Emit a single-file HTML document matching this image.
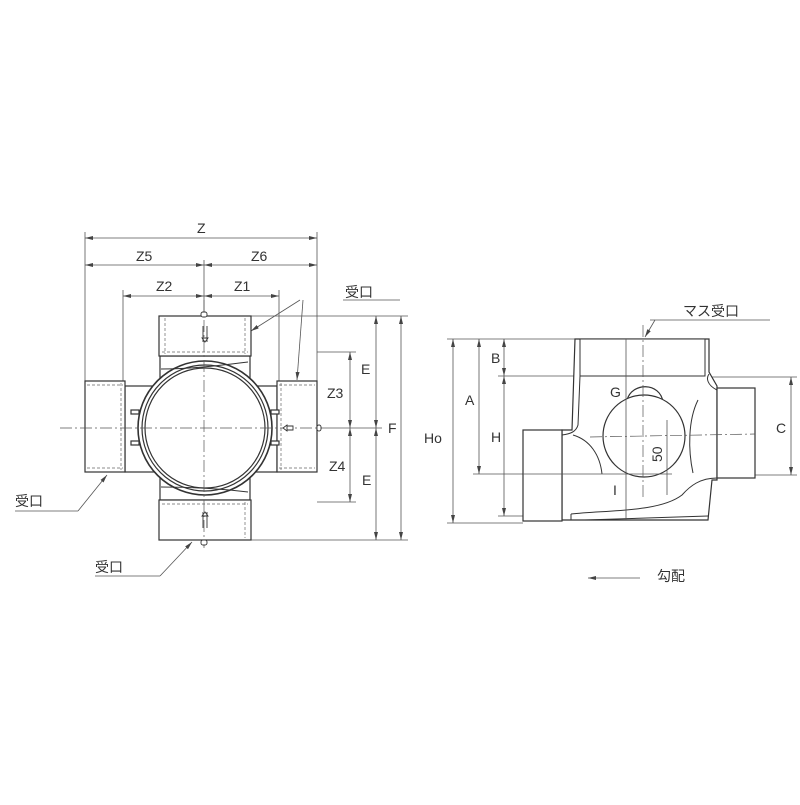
<!DOCTYPE html>
<html><head><meta charset="utf-8"><style>
html,body{margin:0;padding:0;background:#fff}
text{font-family:"Liberation Sans","Noto Sans CJK JP",sans-serif;fill:#333;font-size:14px}
</style></head><body>
<svg width="800" height="800" viewBox="0 0 800 800" xmlns="http://www.w3.org/2000/svg">
<defs>
<marker id="a" markerWidth="8" markerHeight="6" refX="8" refY="3" orient="auto-start-reverse" markerUnits="userSpaceOnUse"><path d="M0,1 L8,3 L0,5" fill="#444" stroke="none"/></marker>
</defs>
<g stroke="#555" stroke-width="0.8" fill="none">
<line x1="85" y1="232" x2="85" y2="381"/><line x1="317" y1="232" x2="317" y2="381"/>
<line x1="204" y1="260" x2="204" y2="316"/>
<line x1="123" y1="290" x2="123" y2="381"/><line x1="279" y1="290" x2="279" y2="381"/>
<line x1="251" y1="316" x2="408" y2="316"/><line x1="251" y1="540" x2="408" y2="540"/>
<line x1="317" y1="352" x2="356" y2="352"/><line x1="317" y1="502" x2="356" y2="502"/>
<line x1="317" y1="428" x2="382" y2="428"/>
<line x1="85" y1="238" x2="317" y2="238" marker-start="url(#a)" marker-end="url(#a)"/>
<line x1="85" y1="265" x2="204" y2="265" marker-start="url(#a)" marker-end="url(#a)"/>
<line x1="204" y1="265" x2="317" y2="265" marker-start="url(#a)" marker-end="url(#a)"/>
<line x1="123" y1="296" x2="204" y2="296" marker-start="url(#a)" marker-end="url(#a)"/>
<line x1="204" y1="296" x2="279" y2="296" marker-start="url(#a)" marker-end="url(#a)"/>
<line x1="350" y1="352" x2="350" y2="428" marker-start="url(#a)" marker-end="url(#a)"/>
<line x1="350" y1="428" x2="350" y2="502" marker-start="url(#a)" marker-end="url(#a)"/>
<line x1="376" y1="316" x2="376" y2="428" marker-start="url(#a)" marker-end="url(#a)"/>
<line x1="376" y1="428" x2="376" y2="540" marker-start="url(#a)" marker-end="url(#a)"/>
<line x1="401" y1="316" x2="401" y2="540" marker-start="url(#a)" marker-end="url(#a)"/>
<line x1="343" y1="300" x2="400" y2="300"/>
<line x1="300" y1="300" x2="251" y2="331" marker-end="url(#a)"/>
<line x1="303" y1="300" x2="297" y2="380" marker-end="url(#a)"/>
<line x1="15" y1="511" x2="78" y2="511"/><line x1="78" y1="511" x2="107" y2="475" marker-end="url(#a)"/>
<line x1="95" y1="576" x2="160" y2="576"/><line x1="160" y1="576" x2="192" y2="542" marker-end="url(#a)"/>
</g>
<g stroke="#333" stroke-width="1.2" fill="#fff">
<rect x="160" y="356" width="90" height="144"/>
<rect x="125" y="386" width="152" height="86"/>
<rect x="159" y="316" width="92" height="40"/>
<rect x="159" y="500" width="92" height="40"/>
<rect x="85" y="381" width="40" height="91"/>
<rect x="277" y="381" width="40" height="91"/>
<rect x="131" y="410" width="8" height="4"/><rect x="131" y="441" width="8" height="4"/>
<rect x="271" y="410" width="8" height="4"/><rect x="271" y="441" width="8" height="4"/>
<circle cx="205" cy="428" r="67" stroke-width="1.6"/>
<circle cx="205" cy="428" r="63"/>
<circle cx="205" cy="428" r="60"/>
</g>
<g stroke="#333" stroke-width="0.9" fill="none">
<path d="M161,369 C190,369 215,366 248,362"/><path d="M161,487 C190,487 215,488 248,492"/>
</g>
<g stroke="#666" stroke-width="0.7" fill="none" stroke-dasharray="3,2">
<line x1="162" y1="352" x2="248" y2="352"/><line x1="162" y1="504" x2="248" y2="504"/>
<line x1="245" y1="318" x2="245" y2="354"/><line x1="245" y1="502" x2="245" y2="538"/>
<line x1="165" y1="318" x2="165" y2="354"/>
<line x1="121" y1="383" x2="121" y2="470"/><line x1="281" y1="383" x2="281" y2="470"/>
<line x1="87" y1="385" x2="123" y2="385"/><line x1="87" y1="468" x2="123" y2="468"/>
<line x1="279" y1="385" x2="315" y2="385"/><line x1="279" y1="468" x2="315" y2="468"/>
</g>
<g stroke="#555" stroke-width="0.7" fill="none" stroke-dasharray="12,3,2,3">
<line x1="204" y1="300" x2="204" y2="548"/><line x1="60" y1="428" x2="322" y2="428"/>
</g>
<g stroke="#333" stroke-width="0.9" fill="#fff">
<rect x="201" y="312" width="6" height="5" rx="2"/><rect x="201" y="540" width="6" height="5" rx="2"/>
<rect x="317" y="425" width="4" height="6" rx="2"/>
<path d="M203,326 v16 M207,326 v16 M205,342 l-3,-4 h6 z"/>
<path d="M203,512 v16 M207,512 v16 M205,512 l-3,4 h6 z"/>
<path d="M283,428 l4,-3 v6 z M287,426 h6 v4 h-6"/>
</g>
<!-- right view -->
<g stroke="#555" stroke-width="0.8" fill="none">
<line x1="447" y1="339" x2="575" y2="339"/><line x1="447" y1="523" x2="523" y2="523"/>
<line x1="473" y1="474" x2="523" y2="474"/><line x1="498" y1="376" x2="578" y2="376"/>
<line x1="498" y1="516" x2="523" y2="516"/>
<line x1="709" y1="377" x2="797" y2="377"/><line x1="755" y1="475" x2="797" y2="475"/>
<line x1="453" y1="339" x2="453" y2="523" marker-start="url(#a)" marker-end="url(#a)"/>
<line x1="479" y1="339" x2="479" y2="474" marker-start="url(#a)" marker-end="url(#a)"/>
<line x1="504" y1="339" x2="504" y2="376" marker-start="url(#a)" marker-end="url(#a)"/>
<line x1="504" y1="376" x2="504" y2="516" marker-start="url(#a)" marker-end="url(#a)"/>
<line x1="791" y1="377" x2="791" y2="475" marker-start="url(#a)" marker-end="url(#a)"/>
<line x1="650" y1="320" x2="770" y2="320"/><line x1="655" y1="320" x2="645" y2="337" marker-end="url(#a)"/>
<line x1="640" y1="578" x2="588" y2="578" marker-end="url(#a)"/>
</g>
<g stroke="#333" stroke-width="1.2" fill="#fff">
<path d="M575,339 H709 V372 L717,386 V480 H712 L708,520 H562 V430 H572 Z"/>
<rect x="580" y="339" width="125" height="37" stroke-width="1"/>
<rect x="717" y="388" width="38" height="90"/>
<rect x="523" y="430" width="39" height="91"/>
<path d="M627,400 C632,382 660,382 663,402"/>
<circle cx="644" cy="436" r="41"/>
</g>
<g stroke="#333" stroke-width="1" fill="none">
<path d="M580,376 L578,425 C576,432 570,434 562,435"/>
<path d="M573,435 C590,440 600,455 602,474"/>
<path d="M717,478 C700,478 690,486 682,495 C660,512 610,510 571,514"/>
<path d="M571,514 V520"/>
<path d="M698,400 C688,420 688,450 693,473"/>
<path d="M709,374 C706,378 707,385 717,390"/>
<path d="M585,520 L708,516"/>
</g>
<g stroke="#555" stroke-width="0.8" fill="none">
<line x1="626" y1="339" x2="626" y2="520"/>
<line x1="667" y1="420" x2="667" y2="495"/>
<line x1="523" y1="474" x2="672" y2="474"/>
</g>
<g stroke="#555" stroke-width="0.7" fill="none" stroke-dasharray="12,3,2,3">
<line x1="590" y1="437" x2="755" y2="434"/>
<line x1="643" y1="325" x2="643" y2="500"/>
</g>
<text x="197" y="233">Z</text>
<text x="136" y="261">Z5</text><text x="251" y="261">Z6</text>
<text x="156" y="291">Z2</text><text x="234" y="291">Z1</text>
<text x="327" y="398">Z3</text><text x="329" y="471">Z4</text>
<text x="361" y="374">E</text><text x="362" y="485">E</text>
<text x="388" y="433">F</text>
<text x="345" y="297" font-size="13">受口</text>
<text x="15" y="506" font-size="13">受口</text>
<text x="95" y="572" font-size="13">受口</text>
<text x="424" y="443">Ho</text><text x="465" y="405">A</text>
<text x="491" y="363">B</text><text x="491" y="442">H</text>
<text x="776" y="433">C</text><text x="610" y="397">G</text>
<text x="613" y="495">I</text>
<text transform="translate(662,462) rotate(-90)">50</text>
<text x="683" y="316" font-size="13">マス受口</text>
<text x="657" y="581" font-size="13">勾配</text>
</svg>
</body></html>
